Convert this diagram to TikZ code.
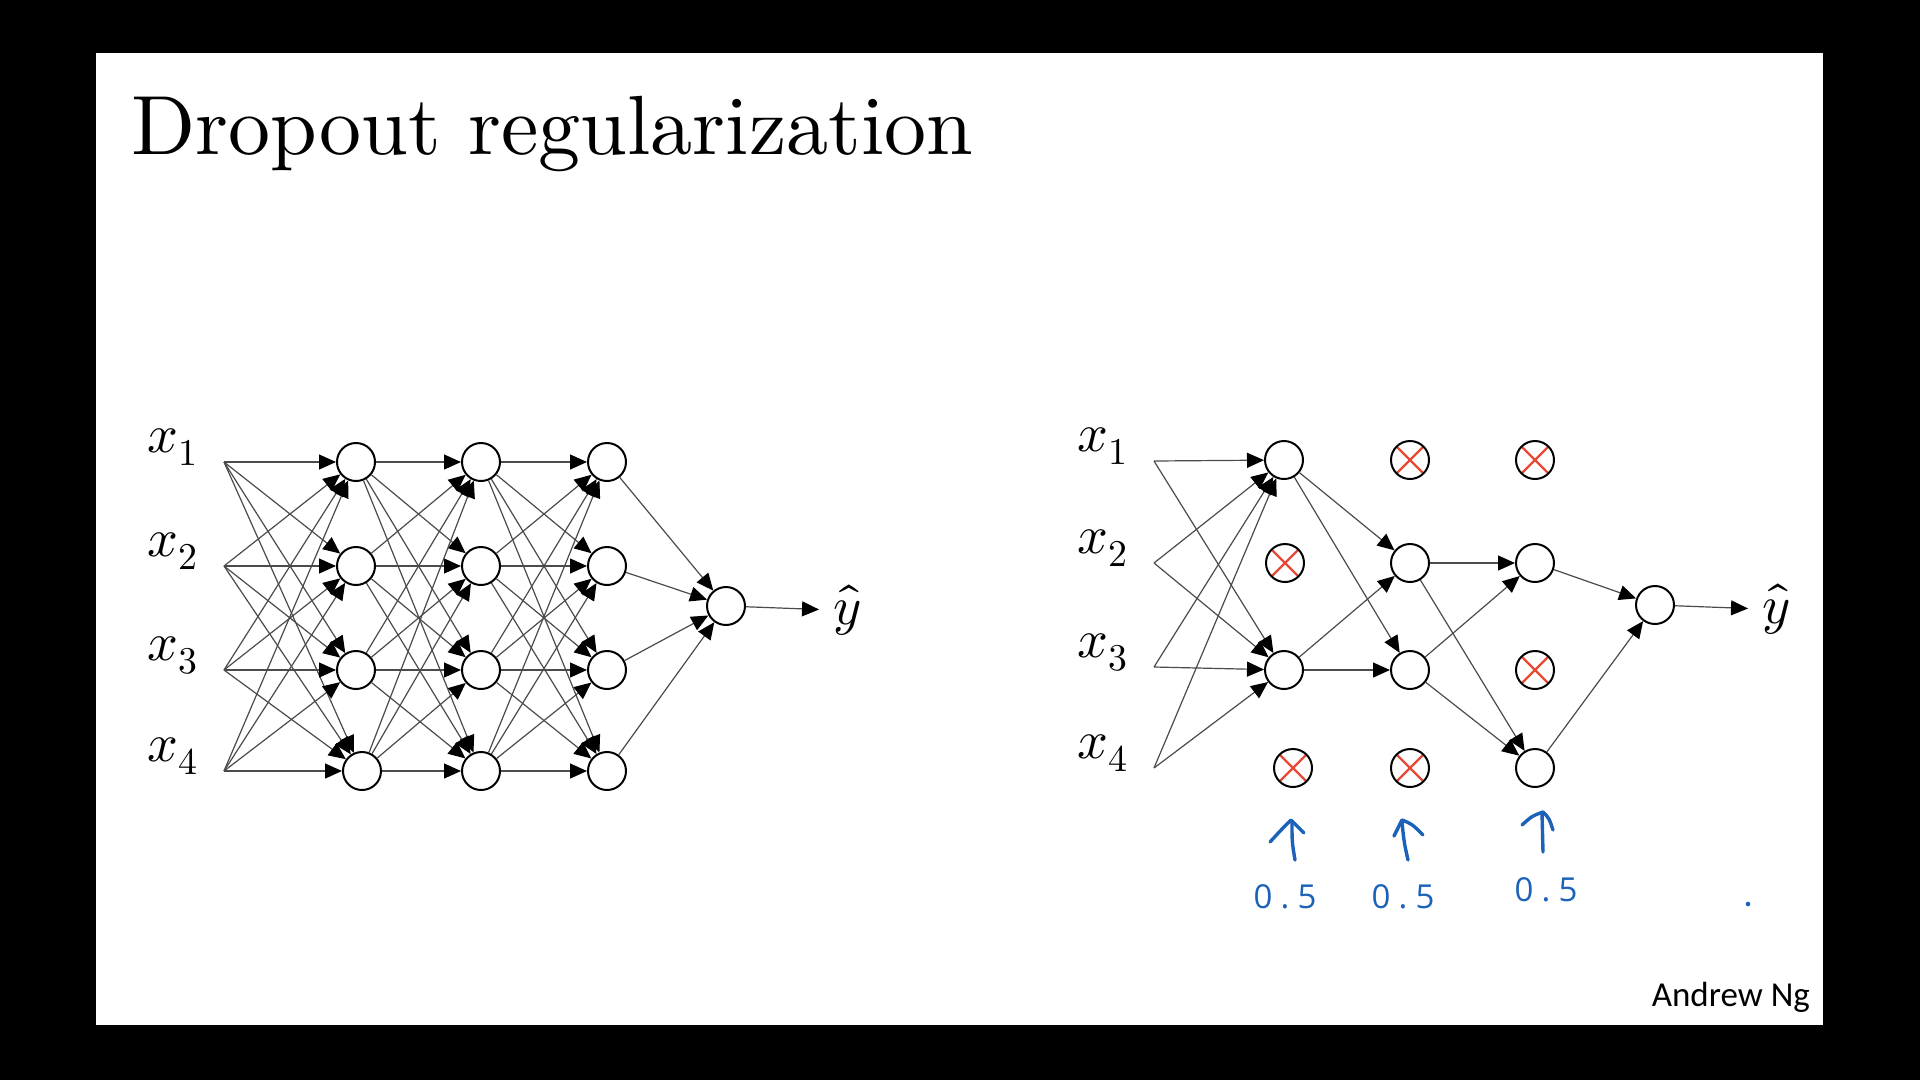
\documentclass[tikz,border=0pt]{standalone}
\usepackage{fontspec}
\usepackage{unicode-math}
\setmathfont{Latin Modern Math}
\usetikzlibrary{arrows.meta}
\newfontfamily\titlefont{lmroman10-regular}[Extension=.otf]
\newfontfamily\andrewfont{Carlito}
\newfontfamily\handfont{Open Sans}[LetterSpace=25]
\definecolor{handblue}{RGB}{28,98,184}
\definecolor{dropred}{RGB}{232,72,52}
\definecolor{edgegray}{RGB}{75,75,75}
\begin{document}
\begin{tikzpicture}[x=1pt,y=-1pt,
  neuron/.style={circle,draw=black,line width=2pt,fill=white,minimum size=38pt,inner sep=0pt},
  dropped/.style={neuron,path picture={\draw[dropred,line width=2.2pt]
      (path picture bounding box.south west) -- (path picture bounding box.north east)
      (path picture bounding box.north west) -- (path picture bounding box.south east);}},
  edge/.style={draw=edgegray,line width=1.2pt,-{Triangle[length=17pt,width=15pt,color=black]}},
  inlabel/.style={anchor=base west,inner sep=0pt,font=\fontsize{54}{60}\selectfont},
  hand/.style={draw=handblue,line width=3.4pt,line cap=round,line join=round},
  handtxt/.style={text=handblue,inner sep=0pt,font=\handfont\fontsize{33}{33}\selectfont}
]
% background and slide
\fill[black] (0,0) rectangle (1920,1080);
\fill[white] (96,53) rectangle (1823,1025);
\useasboundingbox (0,0) rectangle (1920,1080);

% title
\node[anchor=base west,inner sep=0pt,font=\titlefont\fontsize{84}{90}\selectfont] (title) at (131,154) {Dropout regularization};

% ---------------- left network ----------------
\foreach \r/\y in {1/462,2/566,3/670,4/771} {
  \coordinate (a\r) at (224,\y);
  \node[inlabel] (ax\r) at (147,\y-10) {$x_{\r}$};
  \node[neuron] (c\r) at (481,\y) {};
  \node[neuron] (d\r) at (607,\y) {};
}
\node[neuron] (b1) at (356,462) {};
\node[neuron] (b2) at (356,566) {};
\node[neuron] (b3) at (356,670) {};
\node[neuron] (b4) at (362,771) {};
\node[neuron] (e) at (726,606) {};
\node[anchor=west,inner sep=0pt,font=\fontsize{54}{60}\selectfont] (ay) at (833,610) {$\hat{y}$};

\foreach \i in {1,...,4} {
  \foreach \j in {1,...,4} {
    \draw[edge] (a\i) -- (b\j);
    \draw[edge] (b\i) -- (c\j);
    \draw[edge] (c\i) -- (d\j);
  }
  \draw[edge] (d\i) -- (e);
}
\draw[edge,shorten >=14pt] (e) -- (ay.west);

% ---------------- right network ----------------
\foreach \r/\y in {1/461,2/563,3/667,4/768} {
  \coordinate (p\r) at (1154,\y);
  \node[inlabel] (px\r) at (1077,\y-10) {$x_{\r}$};
}
\node[neuron]  (q1) at (1284,460) {};
\node[dropped] (q2) at (1285,563) {};
\node[neuron]  (q3) at (1284,670) {};
\node[dropped] (q4) at (1293,768) {};
\node[dropped] (r1) at (1410,460) {};
\node[neuron]  (r2) at (1410,563) {};
\node[neuron]  (r3) at (1410,670) {};
\node[dropped] (r4) at (1410,768) {};
\node[dropped] (s1) at (1535,460) {};
\node[neuron]  (s2) at (1535,563) {};
\node[dropped] (s3) at (1535,670) {};
\node[neuron]  (s4) at (1535,768) {};
\node[neuron]  (t)  at (1655,605) {};
\node[anchor=west,inner sep=0pt,font=\fontsize{54}{60}\selectfont] (ty) at (1762,609) {$\hat{y}$};

\foreach \i in {1,...,4} {
  \draw[edge] (p\i) -- (q1);
  \draw[edge] (p\i) -- (q3);
}
\foreach \i in {1,3} {
  \draw[edge] (q\i) -- (r2);
  \draw[edge] (q\i) -- (r3);
}
\foreach \i in {2,3} {
  \draw[edge] (r\i) -- (s2);
  \draw[edge] (r\i) -- (s4);
}
\draw[edge] (s2) -- (t);
\draw[edge] (s4) -- (t);
\draw[edge,shorten >=14pt] (t) -- (ty.west);

% ---------------- handwritten annotations ----------------
\draw[hand] (1295,860) .. controls (1292,842) .. (1292,822);
\draw[hand] (1270,842) .. controls (1281,830) .. (1291,820) .. controls (1297,826) .. (1304,833);
\draw[hand] (1408,860) .. controls (1404,842) .. (1402,822);
\draw[hand] (1394,836) .. controls (1398,828) .. (1402,820) .. controls (1412,824) .. (1423,835);
\draw[hand] (1543,852) .. controls (1542,832) .. (1542,813);
\draw[hand] (1522,825) .. controls (1532,816) .. (1543,812) .. controls (1549,818) .. (1553,830);

\node[handtxt] (h1) at (1285,897) {0.5};
\node[handtxt] (h2) at (1403,897) {0.5};
\node[handtxt] (h3) at (1546,890) {0.5};
\fill[handblue] (1748,904) circle (2.3);

% signature
\node[anchor=base east,inner sep=0pt,font=\andrewfont\fontsize{35}{40}\selectfont] (sig) at (1810,1006) {Andrew Ng};
\end{tikzpicture}
\end{document}
